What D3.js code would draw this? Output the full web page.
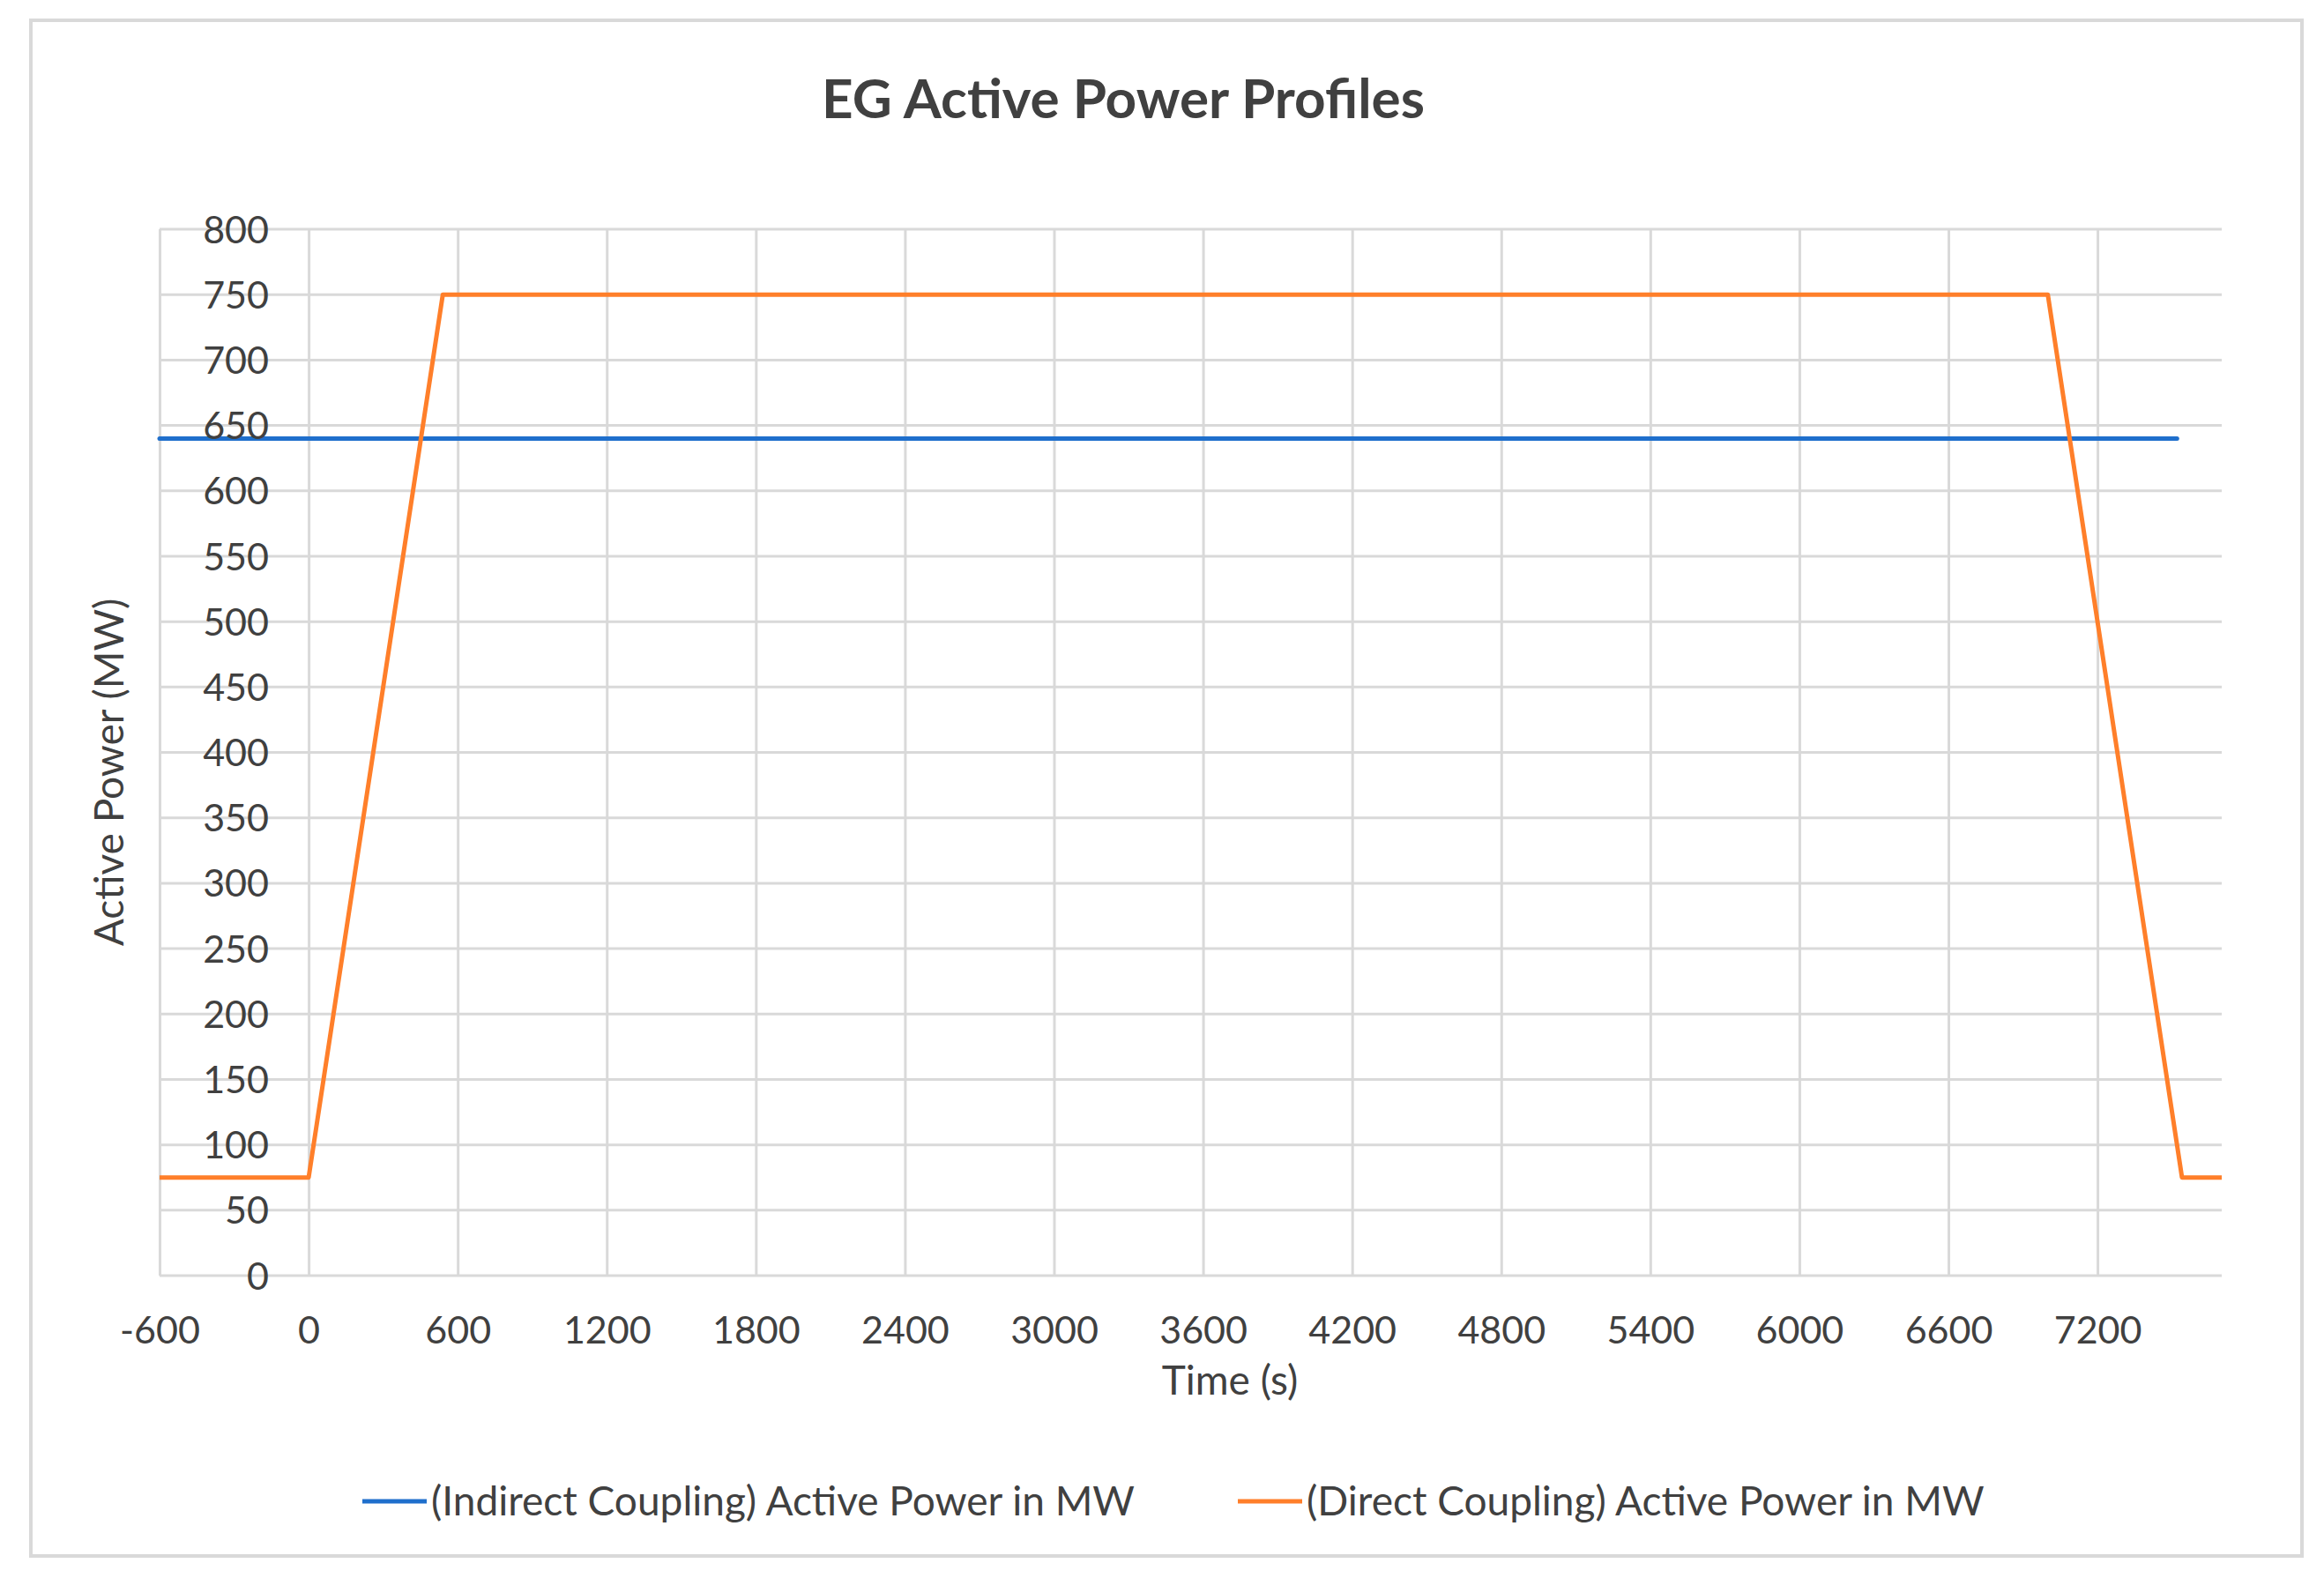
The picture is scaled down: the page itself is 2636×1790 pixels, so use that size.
<!DOCTYPE html>
<html>
<head>
<meta charset="utf-8">
<script src="https://cdn.jsdelivr.net/npm/d3@7"></script>
<style>
  body { margin: 0; background: #fff; }
  svg { display: block; font-family: Lato, "Open Sans", sans-serif; }
  .axis { font-family: Lato, "Open Sans", sans-serif; }
  .axis text { fill: #404040; font-size: 43px; }
  .axis line { stroke: #d9d9d9; stroke-width: 3px; }
  .axis path { display: none; }
</style>
</head>
<body>
<svg></svg>
<script>
var width = 2636;
var height = 1790;

var margin = { left: 181, top: 260, right: 116, bottom: 343 };

// data
var xTicks = [-600, 0, 600, 1200, 1800, 2400, 3000, 3600, 4200, 4800, 5400, 6000, 6600, 7200];
var yTicks = [0, 50, 100, 150, 200, 250, 300, 350, 400, 450, 500, 550, 600, 650, 700, 750, 800];

var indirectTime = [-600, 7520];
var indirectPower = [640, 640];

var directTime = [-600, 0, 540, 7000, 7540, 7700];
var directPower = [75, 75, 750, 750, 75, 75];

var seriesNames = ["(Indirect Coupling) Active Power in MW", "(Direct Coupling) Active Power in MW"];
var seriesColours = ["#1f6fcc", "#ff7f2a"];

var svg = d3.select("svg")
  .attr("width", width)
  .attr("height", height);

// outer chart border
svg.append("rect")
  .attr("x", 35).attr("y", 23)
  .attr("width", 2576).attr("height", 1742)
  .attr("fill", "#fff")
  .attr("stroke", "#d9d9d9")
  .attr("stroke-width", 4);

var x = d3.scaleLinear()
  .domain([-600, 7700])
  .range([margin.left, width - margin.right]);

var y = d3.scaleLinear()
  .domain([0, 800])
  .range([height - margin.bottom, margin.top]);

// horizontal gridlines (under everything)
svg.append("g")
  .selectAll("line")
  .data(yTicks)
  .join("line")
  .attr("x1", x(-600))
  .attr("x2", x(7700))
  .attr("y1", d => y(d))
  .attr("y2", d => y(d))
  .attr("stroke", "#d9d9d9")
  .attr("stroke-width", 3);

// vertical gridlines + x labels
var xAxis = d3.axisBottom(x)
  .tickValues(xTicks)
  .tickSize(-(y(0) - y(800)))
  .tickPadding(46)
  .tickFormat(d => String(d));

svg.append("g")
  .attr("class", "axis x")
  .attr("transform", "translate(0," + y(0) + ")")
  .call(xAxis);

var line = d3.line()
  .x(d => x(d[0]))
  .y(d => y(d[1]));

svg.append("path")
  .datum(indirectTime.map((t, i) => [t, indirectPower[i]]))
  .attr("d", line)
  .attr("fill", "none")
  .attr("stroke", seriesColours[0])
  .attr("stroke-width", 5)
  .attr("stroke-linecap", "round");

svg.append("path")
  .datum(directTime.map((t, i) => [t, directPower[i]]))
  .attr("d", line)
  .attr("fill", "none")
  .attr("stroke", seriesColours[1])
  .attr("stroke-width", 5)
  .attr("stroke-linejoin", "round");

// y labels, drawn over the lines like the original
var yAxis = d3.axisLeft(y)
  .tickValues(yTicks)
  .tickSize(0)
  .tickPadding(0)
  .tickFormat(d => String(d));

var yDraw = svg.append("g")
  .attr("class", "axis y")
  .attr("transform", "translate(" + margin.left + ",0)")
  .call(yAxis);

yDraw.selectAll(".tick text")
  .attr("x", 124)
  .attr("text-anchor", "end")
  .attr("dy", "0.35em");

// title
svg.append("text")
  .attr("x", 1274)
  .attr("y", 134)
  .attr("text-anchor", "middle")
  .attr("font-size", 62)
  .attr("font-weight", "bold")
  .attr("fill", "#404040")
  .text("EG Active Power Profiles");

// axis titles
svg.append("text")
  .attr("x", 1395)
  .attr("y", 1582)
  .attr("text-anchor", "middle")
  .attr("font-size", 46)
  .attr("fill", "#404040")
  .text("Time (s)");

svg.append("text")
  .attr("transform", "translate(140,876) rotate(-90)")
  .attr("text-anchor", "middle")
  .attr("font-size", 46)
  .attr("fill", "#404040")
  .text("Active Power (MW)");

// legend
var legendX = [411, 1404];
var legend = svg.selectAll("g.legend")
  .data(seriesNames)
  .join("g")
  .attr("class", "legend")
  .attr("transform", (d, i) => "translate(" + legendX[i] + ",1703)");

legend.append("line")
  .attr("x2", 73)
  .attr("stroke", (d, i) => seriesColours[i])
  .attr("stroke-width", 5);

legend.append("text")
  .attr("x", 78)
  .attr("dy", "0.35em")
  .attr("font-size", 46)
  .attr("fill", "#404040")
  .text(d => d);
</script>
</body>
</html>
